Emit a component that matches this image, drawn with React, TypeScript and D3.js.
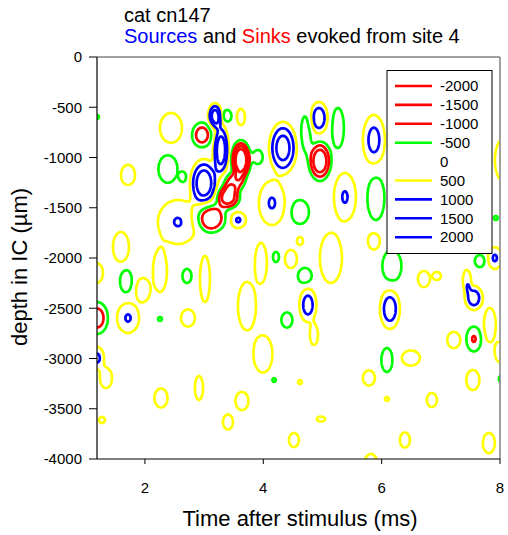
import React, { useEffect, useRef } from 'react';
import * as d3 from 'd3';

// legend levels (0 is listed but not drawn)
const levels = [-2000, -1500, -1000, -500, 0, 500, 1000, 1500, 2000];
const levelColors = ['#ff0000', '#ff0000', '#ff0000', '#00ff00', 'none', '#ffff00', '#0000ff', '#0000ff', '#0000ff'];

const timeTicks = [2, 4, 6, 8];
const depthTicks = [0, -500, -1000, -1500, -2000, -2500, -3000, -3500, -4000];

// sources (positive peaks): centre time (ms), centre depth (um), peak value,
// half width (ms) and half height (um) of the outer 500 contour
const srcTime = [2.44, 1.714, 3.183, 3.285, 2.997, 2.558, 3.572, 3.622, 4.332, 4.94, 4.146, 5.379, 5.869, 3.724, 3.994, 1.595, 2.254, 3.014, 1.967, 1.714, 2.727, 1.173, 1.19, 1.342, 2.913, 2.271, 3.639, 1.274, 3.403, 4.518, 4.619, 4.467, 5.143, 5.869, 4.754, 4.856, 6.139, 6.714, 6.933, 7.913, 7.558, 7.44, 7.828, 7.997, 7.22, 6.494, 5.785, 7.541, 6.089, 6.849, 4.974, 6.393, 7.812, 5.818, 8.082, 4.619, 3.96];
const srcDepth = [-706, -1174, -587, -925, -1254, -1642, -1622, -597, -905, -607, -1453, -1393, -826, -2478, -2955, -1890, -2129, -2209, -2318, -2597, -2597, -2149, -2995, -3194, -3293, -3393, -3423, -3612, -3632, -3811, -1831, -2010, -2000, -1831, -2468, -2766, -2507, -2209, -2179, -2000, -2398, -2219, -2667, -2935, -2816, -2995, -3194, -3214, -3403, -3413, -3602, -3811, -3841, -4030, -1025, -3234, -2050];
const srcPeak = [900, 900, 1700, 1800, 1800, 1005, 1020, 900, 1700, 1250, 1010, 1010, 1100, 900, 900, 900, 900, 900, 900, 1010, 900, 900, 1050, 900, 900, 900, 900, 900, 900, 900, 900, 900, 900, 900, 1150, 900, 1200, 900, 900, 1020, 1200, 900, 900, 900, 900, 900, 900, 900, 600, 900, 900, 900, 900, 900, 900, 600, 900];
const srcHalfT = [0.186, 0.118, 0.118, 0.135, 0.236, 0.338, 0.135, 0.068, 0.236, 0.152, 0.22, 0.186, 0.186, 0.152, 0.16, 0.135, 0.118, 0.084, 0.118, 0.186, 0.118, 0.118, 0.118, 0.101, 0.068, 0.11, 0.11, 0.051, 0.084, 0.084, 0.051, 0.101, 0.186, 0.101, 0.144, 0.068, 0.169, 0.101, 0.068, 0.118, 0.152, 0.068, 0.101, 0.084, 0.11, 0.152, 0.101, 0.11, 0.034, 0.084, 0.068, 0.084, 0.101, 0.101, 0.169, 0.034, 0.101];
const srcHalfD = [149, 100, 129, 259, 239, 219, 80, 80, 259, 159, 219, 239, 249, 240, 185, 149, 209, 229, 119, 149, 85, 100, 109, 100, 119, 95, 90, 30, 75, 70, 40, 90, 249, 85, 169, 100, 199, 80, 40, 109, 120, 100, 170, 100, 80, 75, 75, 100, 20, 70, 25, 75, 100, 80, 219, 20, 199];

// sinks (negative peaks), same fields
const sinkTime = [2.964, 2.389, 2.643, 3.386, 3.622, 3.504, 3.403, 3.099, 3.91, 4.957, 4.72, 5.261, 4.619, 5.903, 4.214, 4.703, 1.68, 2.71, 1.19, 2.254, 4.399, 4.18, 6.173, 7.659, 7.558, 6.089, 8.048, 1.19, 7.93];
const sinkDepth = [-776, -1114, -1194, -587, -1025, -1244, -1393, -1602, -995, -1035, -756, -706, -1542, -1403, -1990, -2179, -2229, -2179, -2597, -2607, -2617, -3214, -2080, -2030, -2806, -3015, -3204, -597, -1602];
const sinkPeak = [-1200, -900, -900, -900, -2600, -1200, -1800, -1500, -700, -1900, -800, -800, -900, -900, -900, -900, -900, -900, -1200, -600, -900, -600, -900, -900, -1010, -900, -900, -600, -600];
const sinkHalfT = [0.169, 0.16, 0.059, 0.076, 0.169, 0.169, 0.203, 0.27, 0.084, 0.194, 0.084, 0.101, 0.152, 0.144, 0.051, 0.118, 0.101, 0.076, 0.186, 0.034, 0.093, 0.034, 0.16, 0.084, 0.127, 0.093, 0.068, 0.034, 0.034];
const sinkHalfD = [124, 139, 50, 60, 199, 90, 119, 149, 70, 199, 179, 199, 119, 219, 50, 80, 114, 70, 159, 20, 75, 20, 159, 60, 124, 119, 40, 20, 20];

const font = 'Arial, "Liberation Sans", sans-serif';

export default function App() {
  const ref = useRef<SVGSVGElement>(null);

  useEffect(() => {
    const svg = d3.select(ref.current);
    svg.selectAll('*').remove();

    const x = d3.scaleLinear().domain([1.19, 8]).range([97, 500]);
    const y = d3.scaleLinear().domain([0, -4000]).range([57, 459]);

    // sample the field on a pixel grid a little larger than the plot
    const x0 = 87, y0 = 47, nx = 424, ny = 423;
    const field = new Float64Array(nx * ny);
    // peaks fall off as exp(-r^3/2), scaled so the 500 contour sits at the half extents
    const toBlob = (t: number, d: number, p: number, ht: number, hd: number) => {
      const k = Math.cbrt(2 * Math.log(Math.abs(p) / 500));
      return { t, d, p, st: ht / k, sd: hd / k };
    };
    const blobs = [
      ...srcTime.map((t, i) => toBlob(t, srcDepth[i], srcPeak[i], srcHalfT[i], srcHalfD[i])),
      ...sinkTime.map((t, i) => toBlob(t, sinkDepth[i], sinkPeak[i], sinkHalfT[i], sinkHalfD[i])),
    ];
    blobs.forEach((b) => {
      const iA = Math.max(0, Math.floor(x(b.t - 3 * b.st) - x0));
      const iB = Math.min(nx - 1, Math.ceil(x(b.t + 3 * b.st) - x0));
      const jA = Math.max(0, Math.floor(y(b.d + 3 * b.sd) - y0));
      const jB = Math.min(ny - 1, Math.ceil(y(b.d - 3 * b.sd) - y0));
      for (let j = jA; j <= jB; j++) {
        const dd = (y.invert(y0 + j + 0.5) - b.d) / b.sd;
        for (let i = iA; i <= iB; i++) {
          const dt = (x.invert(x0 + i + 0.5) - b.t) / b.st;
          const r2 = dt * dt + dd * dd;
          field[j * nx + i] += b.p * Math.exp(-0.5 * r2 * Math.sqrt(r2));
        }
      }
    });

    const steps = [500, 1000, 1500, 2000];
    const pos = d3.contours().size([nx, ny]).thresholds(steps)(Array.from(field));
    const neg = d3.contours().size([nx, ny]).thresholds(steps)(Array.from(field, (v) => -v));
    const path = d3.geoPath(d3.geoIdentity().translate([x0, y0]));

    svg.append('defs').append('clipPath').attr('id', 'plot-clip')
      .append('rect').attr('x', 97).attr('y', 57).attr('width', 403).attr('height', 402);

    const plot = svg.append('g').attr('clip-path', 'url(#plot-clip)');
    const draw = (geoms: any[], color: string) => {
      plot.selectAll(null).data(geoms).enter().append('path')
        .attr('d', path as any)
        .attr('fill', 'none')
        .attr('stroke', color)
        .attr('stroke-width', 2.7)
        .attr('stroke-linejoin', 'round');
    };
    draw(neg.filter((c) => c.value === 500), '#00ff00');
    draw(pos.filter((c) => c.value === 500), '#ffff00');
    draw(neg.filter((c) => c.value > 500), '#ff0000');
    draw(pos.filter((c) => c.value > 500), '#0000ff');

    // frame
    svg.append('line').attr('x1', 97).attr('x2', 500).attr('y1', 57).attr('y2', 57).attr('stroke', '#808080').attr('stroke-width', 1.5);
    svg.append('line').attr('x1', 500).attr('x2', 500).attr('y1', 57).attr('y2', 459).attr('stroke', '#808080').attr('stroke-width', 1.5);
    svg.append('line').attr('x1', 97).attr('x2', 97).attr('y1', 57).attr('y2', 459).attr('stroke', '#000').attr('stroke-width', 1.2);
    svg.append('line').attr('x1', 97).attr('x2', 500).attr('y1', 459).attr('y2', 459).attr('stroke', '#000').attr('stroke-width', 1.2);

    // y ticks
    const yt = svg.append('g').selectAll('g').data(depthTicks).enter().append('g');
    yt.append('line').attr('x1', 89).attr('x2', 97).attr('y1', (d) => y(d)).attr('y2', (d) => y(d)).attr('stroke', '#000');
    yt.append('text').attr('x', 82).attr('y', (d) => y(d)).attr('dy', '0.35em')
      .attr('text-anchor', 'end').style('font', `15px ${font}`).text((d) => d);

    // x ticks
    const xt = svg.append('g').selectAll('g').data(timeTicks).enter().append('g');
    xt.append('line').attr('x1', (d) => x(d)).attr('x2', (d) => x(d)).attr('y1', 459).attr('y2', 464).attr('stroke', '#000');
    xt.append('text').attr('x', (d) => x(d)).attr('y', 493)
      .attr('text-anchor', 'middle').style('font', `15px ${font}`).text((d) => d);

    // axis titles
    svg.append('text').attr('x', 300).attr('y', 526).attr('text-anchor', 'middle')
      .style('font', `22px ${font}`).text('Time after stimulus (ms)');
    svg.append('text').attr('transform', 'translate(27,267) rotate(-90)').attr('text-anchor', 'middle')
      .style('font', `22px ${font}`).text('depth in IC (µm)');

    // title
    svg.append('text').attr('x', 124).attr('y', 22).style('font', `20px ${font}`).text('cat cn147');
    const t2 = svg.append('text').attr('x', 124).attr('y', 43).style('font', `20px ${font}`);
    t2.append('tspan').attr('fill', '#0000ff').text('Sources');
    t2.append('tspan').text(' and ');
    t2.append('tspan').attr('fill', '#ff0000').text('Sinks');
    t2.append('tspan').text(' evoked from site 4');

    // legend
    const lg = svg.append('g');
    lg.append('rect').attr('x', 387).attr('y', 70.5).attr('width', 105).attr('height', 183)
      .attr('fill', '#fff').attr('stroke', '#000').attr('stroke-width', 1);
    const rows = lg.selectAll('g').data(levels).enter().append('g')
      .attr('transform', (_, i) => `translate(0,${86 + i * 18.9})`);
    rows.append('line').attr('x1', 395).attr('x2', 432).attr('y1', 0).attr('y2', 0)
      .attr('stroke', (_, i) => levelColors[i]).attr('stroke-width', 2.6);
    rows.append('text').attr('x', 440).attr('dy', '0.35em').style('font', `15px ${font}`).text((d) => d);
  }, []);

  return (
    <svg
      ref={ref}
      width={508}
      height={535}
      style={{ position: 'absolute', left: 0, top: 0, background: '#fff' }}
    />
  );
}
